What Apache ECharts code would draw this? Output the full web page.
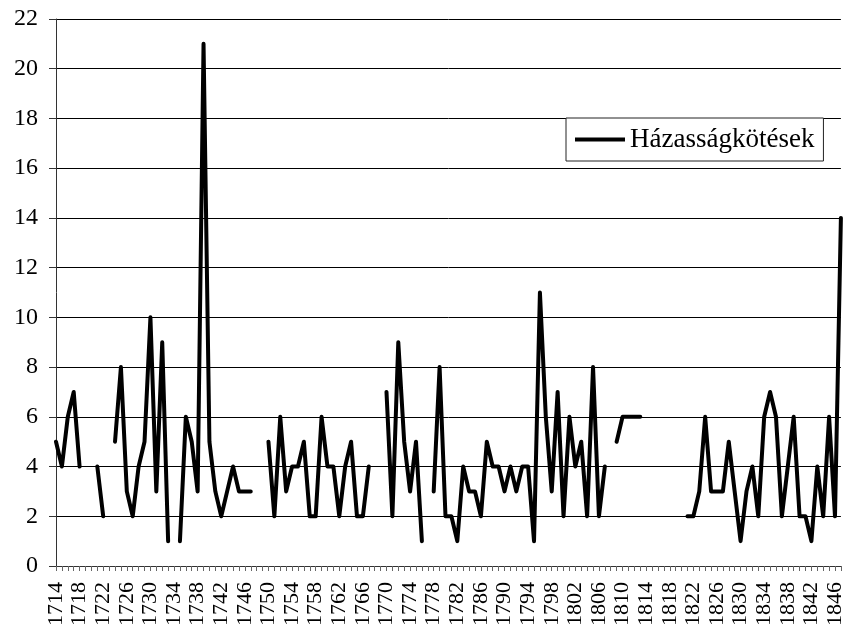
<!DOCTYPE html>
<html>
<head>
<meta charset="utf-8">
<script src="https://cdn.jsdelivr.net/npm/echarts@6/dist/echarts.min.js"></script>
<style>
  html, body { margin: 0; padding: 0; background: #fff; }
  #chart { width: 846px; height: 629px; }
</style>
</head>
<body>
<div id="chart"></div>
<script>
const years = [];
for (let y = 1714; y <= 1847; y++) years.push(String(y));

// Házasságkötések per year, null = no data
const marriages = [
  5, 4, 6, 7, 4, null, null, 4, 2, null,          // 1714-1723
  5, 8, 3, 2, 4, 5, 10, 3, 9, 1,                  // 1724-1733
  null, 1, 6, 5, 3, 21, 5, 3, 2, 3,               // 1734-1743
  4, 3, 3, 3, null, null, 5, 2, 6, 3,             // 1744-1753
  4, 4, 5, 2, 2, 6, 4, 4, 2, 4,                   // 1754-1763
  5, 2, 2, 4, null, null, 7, 2, 9, 5,             // 1764-1773
  3, 5, 1, null, 3, 8, 2, 2, 1, 4,                // 1774-1783
  3, 3, 2, 5, 4, 4, 3, 4, 3, 4,                   // 1784-1793
  4, 1, 11, 6, 3, 7, 2, 6, 4, 5,                  // 1794-1803
  2, 8, 2, 4, null, 5, 6, 6, 6, 6,                // 1804-1813
  null, null, null, null, null, null, null, 2, 2, 3, // 1814-1823
  6, 3, 3, 3, 5, 3, 1, 3, 4, 2,                   // 1824-1833
  6, 7, 6, 2, 4, 6, 2, 2, 1, 4,                   // 1834-1843
  2, 6, 2, 14                                     // 1844-1847
];

const chart = echarts.init(document.getElementById('chart'));
const font = '"Liberation Serif", "Times New Roman", serif';

chart.setOption({
  animation: false,
  backgroundColor: '#fff',
  textStyle: { fontFamily: font },
  grid: { left: 56, right: 0, top: 19, bottom: 61 },
  legend: {
    left: 566,
    top: 118,
    padding: [8, 9, 8, 9],
    borderColor: '#222',
    borderWidth: 1,
    backgroundColor: '#fff',
    itemWidth: 50,
    itemHeight: 4,
    icon: 'rect',
    textStyle: { fontFamily: font, fontSize: 27, color: '#000' },
    data: ['Házasságkötések']
  },
  xAxis: {
    type: 'category',
    data: years,
    boundaryGap: false,
    axisLine: { lineStyle: { color: '#333', width: 1 } },
    axisTick: { show: true, interval: 0, length: 5, lineStyle: { color: '#666' } },
    axisLabel: {
      interval: 3,
      rotate: 90,
      margin: 16,
      fontFamily: font,
      fontSize: 22,
      color: '#000'
    },
    splitLine: { show: false }
  },
  yAxis: {
    type: 'value',
    min: 0,
    max: 22,
    interval: 2,
    axisLine: { show: true, lineStyle: { color: '#333', width: 1 } },
    axisTick: { show: true, length: 7, lineStyle: { color: '#333' } },
    axisLabel: { margin: 18, fontFamily: font, fontSize: 24, color: '#000' },
    splitLine: { lineStyle: { color: '#000', width: 1 } }
  },
  series: [{
    name: 'Házasságkötések',
    type: 'line',
    data: marriages,
    connectNulls: false,
    showSymbol: false,
    symbol: 'none',
    itemStyle: { color: '#000' },
    lineStyle: { color: '#000', width: 4, join: 'round', cap: 'round' }
  }]
});
</script>
</body>
</html>
